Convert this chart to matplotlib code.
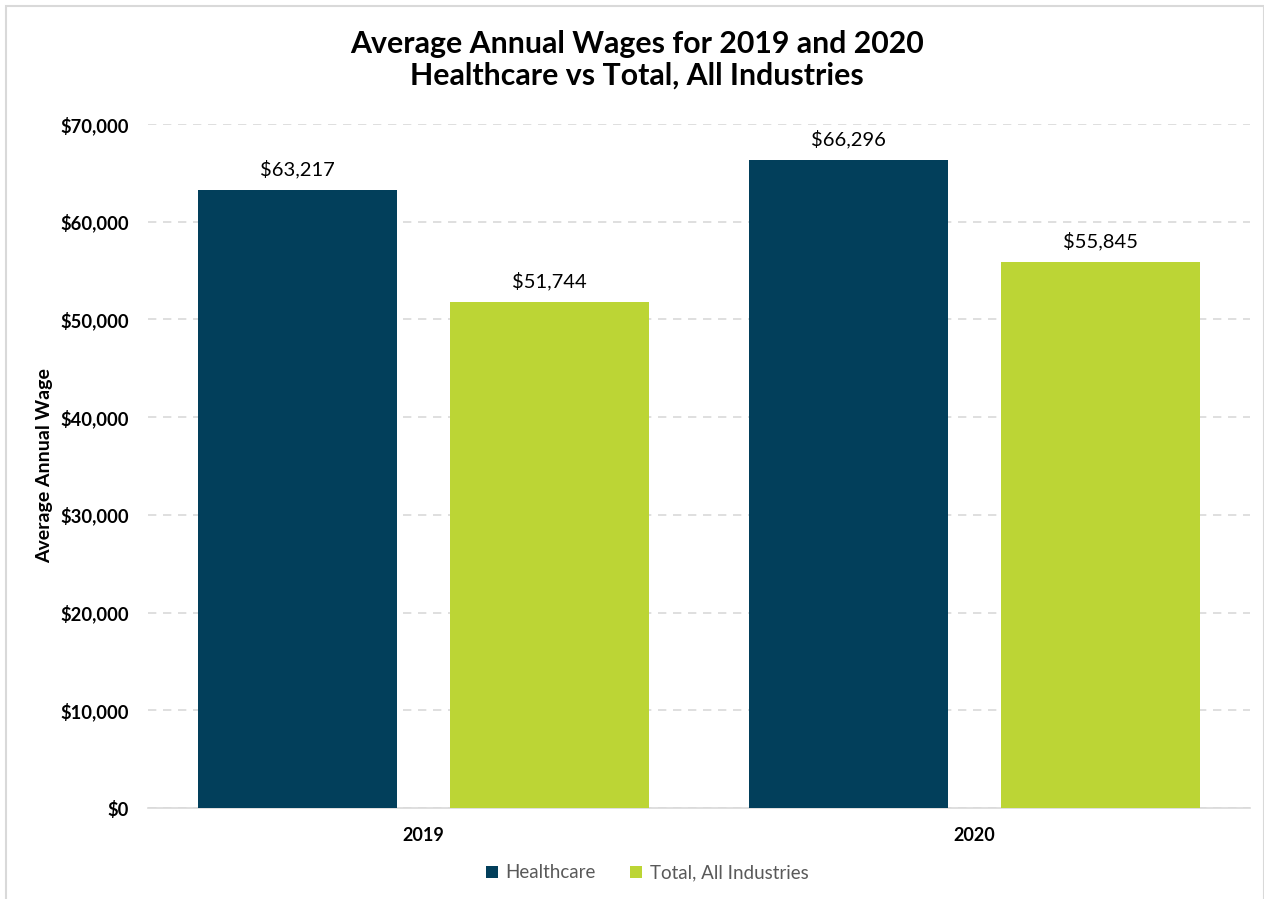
"""Average annual wages: healthcare vs all industries"""
import matplotlib.pyplot as plt
import numpy as np
from matplotlib.patches import Rectangle

plt.rcParams['font.family'] = ['Lato', 'DejaVu Sans']

years = ['2019', '2020']
healthcare = [63217, 66296]
total_all = [51744, 55845]
series_names = ['Healthcare', 'Total, All Industries']
colors = ['#023F5B', '#BCD535']

fig = plt.figure(figsize=(12.64, 8.99), dpi=100)
ax = fig.add_axes([0.1171, 0.1012, 0.8718, 0.7609])

x = np.arange(len(years))
width = 0.361
offset = 0.229

bars = []
for vals, off, col, name in zip([healthcare, total_all], [-offset, offset], colors, series_names):
    b = ax.bar(x + off, vals, width, color=col, label=name, zorder=3)
    bars.append(b)
    for xi, v in zip(x + off, vals):
        ax.text(xi, v + 1200, f'${v:,.0f}', ha='center', va='bottom', fontsize=14.5, color='#000000')

ax.set_xlim(-0.5, 1.5)
ax.set_ylim(0, 70000)
ax.set_yticks(np.arange(0, 70001, 10000))
ax.set_yticklabels([f'${v:,.0f}' for v in np.arange(0, 70001, 10000)], fontsize=13.2, fontweight='bold')
ax.set_xticks(x)
ax.set_xticklabels(years, fontsize=13, fontweight='bold')
ax.tick_params(axis='both', length=0, pad=14)
ax.tick_params(axis='x', pad=14)

ax.grid(axis='y', color='#D9D9D9', linestyle=(0, (5, 4)), linewidth=1.2, zorder=0)
for s in ['top', 'right', 'left']:
    ax.spines[s].set_visible(False)
ax.spines['bottom'].set_color('#D9D9D9')
ax.spines['bottom'].set_linewidth(1.2)

ax.set_ylabel('Average Annual Wage', fontsize=14, fontweight='bold', labelpad=5)

fig.text(0.504, 0.967, 'Average Annual Wages for 2019 and 2020\nHealthcare vs Total, All Industries',
         ha='center', va='top', fontsize=21.8, fontweight='bold', linespacing=1.15)

leg = fig.legend(handles=bars, labels=series_names, loc='center', bbox_to_anchor=(0.512, 0.029),
                 ncol=2, frameon=False, fontsize=13.5, handlelength=0.65, handleheight=0.65,
                 handletextpad=0.4, columnspacing=1.8)
for t in leg.get_texts():
    t.set_color('#595959')

# outer chart border
fig.patches.append(Rectangle((0.005, -0.01), 0.995, 1.003, transform=fig.transFigure,
                             fill=False, edgecolor='#D9D9D9', linewidth=1.5))

plt.savefig('out.png', dpi=100)
